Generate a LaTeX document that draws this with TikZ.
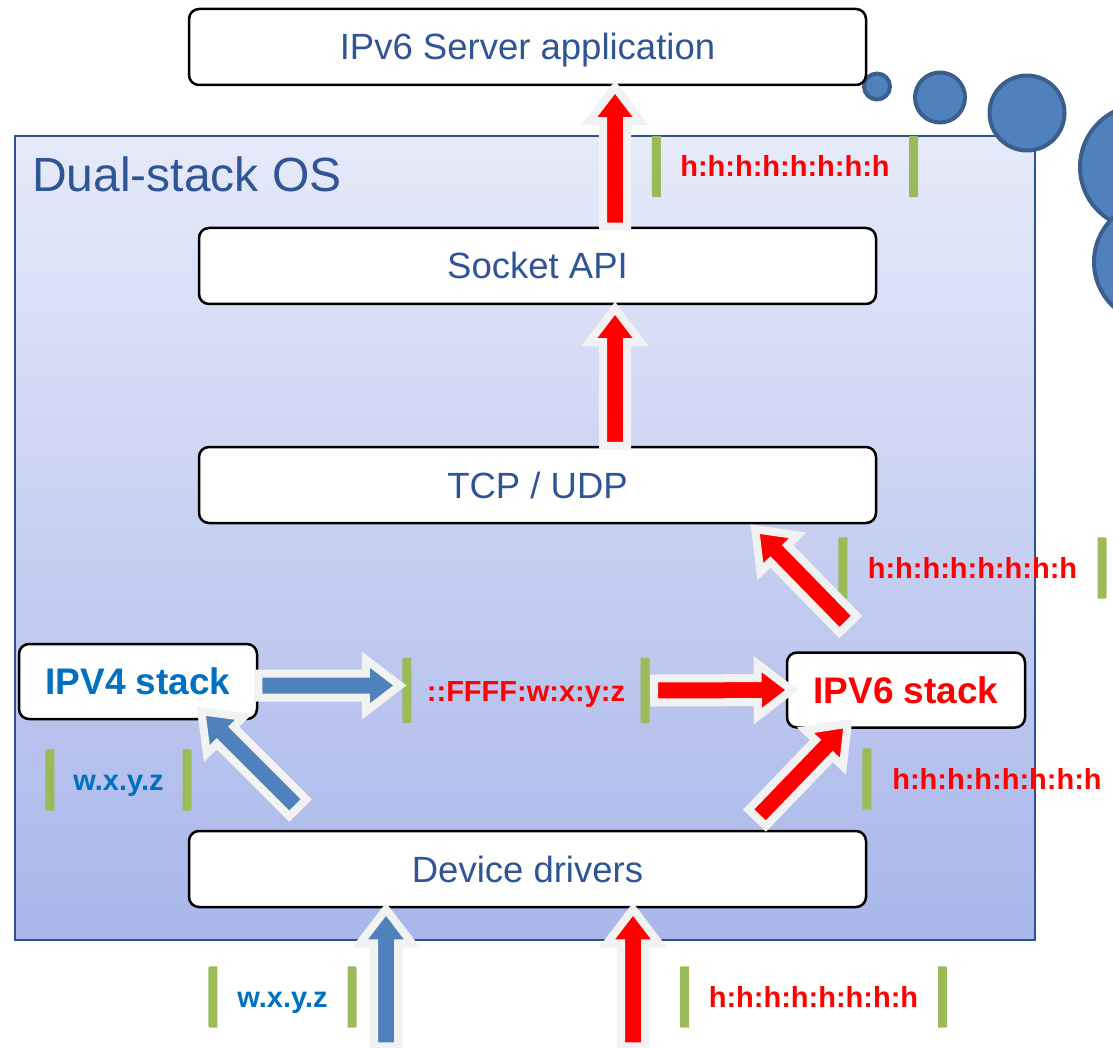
\documentclass[tikz,border=0pt]{standalone}
\usepackage{fontspec}
\setmainfont{Liberation Sans}
\usetikzlibrary{calc,positioning}

\definecolor{txtblue}{RGB}{47,85,151}
\definecolor{vfourblue}{RGB}{0,112,192}
\definecolor{arrblue}{RGB}{79,129,189}
\definecolor{rim}{RGB}{242,242,242}
\definecolor{brkgreen}{RGB}{155,187,89}
\definecolor{osedge}{RGB}{47,82,143}
\definecolor{ostop}{RGB}{230,234,249}
\definecolor{osbottom}{RGB}{168,182,234}
\definecolor{bubble}{RGB}{79,129,189}
\definecolor{bubbleedge}{RGB}{58,95,140}

\tikzset{
  layer/.style={draw=black, line width=2.5pt, rounded corners=10pt, fill=white,
    minimum width=677pt, minimum height=76pt, text=txtblue,
    text height=26pt, text depth=0pt, font=\fontsize{36.5}{44}\selectfont},
  stackbox/.style={layer, minimum width=238pt, minimum height=75pt,
    font=\bfseries\fontsize{37}{44}\selectfont},
  addr/.style={minimum width=#1, minimum height=61pt, inner sep=0pt,
    text height=21pt, text depth=0pt, font=\bfseries\fontsize{29}{35}\selectfont},
  bub/.style={fill=bubble, draw=bubbleedge, line width=4pt},
  blockarrow/.style={fill=#1, draw=rim, line width=8pt, line join=miter,
    to path={let \p1=($(\tikztotarget)!34pt!(\tikztostart)$) in
      ($(\tikztostart)!12pt!90:(\tikztotarget)$) -- ($(\p1)!12pt!90:(\tikztotarget)$)
      -- ($(\p1)!26pt!90:(\tikztotarget)$) -- (\tikztotarget)
      -- ($(\p1)!26pt!-90:(\tikztotarget)$) -- ($(\p1)!12pt!-90:(\tikztotarget)$)
      -- ($(\tikztostart)!12pt!-90:(\tikztotarget)$) -- cycle}}
}

\begin{document}
\begin{tikzpicture}[x=1pt,y=-1pt]
  \useasboundingbox (0,0) rectangle (1113,1048);

  % the operating system
  \node[draw=osedge, line width=2.5pt, top color=ostop, bottom color=osbottom,
    minimum width=1020pt, minimum height=804pt, inner sep=0pt] (os) at (525,538) {};
  \node[anchor=base west, inner sep=0pt, text=txtblue, font=\fontsize{48}{56}\selectfont]
    (title) at (32,192) {Dual-stack OS};

  % thought bubbles
  \draw[bub] (877,86.5) circle[radius=13pt];
  \draw[bub] (940,97.5) circle[radius=25pt];
  \draw[bub] (1027,113) circle[radius=37.5pt];
  \draw[bub] (1142,167) circle[radius=62pt];
  \draw[bub] (1155,262) circle[radius=61pt];

  % layers
  \node[layer] (srv) at (527.5,47) {IPv6 Server application};
  \node[layer] (sock) at (537.5,266) {Socket API};
  \node[layer] (tcp) at (537.5,485) {TCP / UDP};
  \node[stackbox, text=vfourblue] (vfour) at (138,681.5) {IPV4 stack};
  \node[stackbox, text=red] (vsix) at (906,690) {IPV6 stack};
  \node[layer] (drv) at (527.5,869) {Device drivers};

  % addresses
  \node[addr=257pt, text=red] (a1) at (785,166.5) {h:h:h:h:h:h:h:h};
  \node[addr=259pt, text=red] (a2) at (972.5,568) {h:h:h:h:h:h:h:h};
  \node[addr=238pt, text=red, minimum height=65pt] (a3) at (526,690.5) {::FFFF:w:x:y:z};
  \node[addr=260pt, text=red] (a4) at (997,779) {h:h:h:h:h:h:h:h};
  \node[addr=137pt, text=vfourblue] (a5) at (118.5,780) {w.x.y.z};
  \node[addr=139pt, text=vfourblue] (a6) at (282.5,997) {w.x.y.z};
  \node[addr=258pt, text=red] (a7) at (813.5,997) {h:h:h:h:h:h:h:h};

  \foreach \lbl in {a1,a2,a3,a4,a5,a6,a7} {
    \fill[brkgreen] let \p1=(\lbl.north west), \p2=(\lbl.south west) in
      (\x1+4.5pt,\y1) -- (\x1-1pt,\y1) .. controls (\x1-4.5pt,\y1) .. (\x1-4.5pt,\y1-5pt)
      -- (\x1-4.5pt,\y2+5pt) .. controls (\x1-4.5pt,\y2) .. (\x1-1pt,\y2)
      -- (\x1+4.5pt,\y2) -- cycle;
    \fill[brkgreen] let \p1=(\lbl.north east), \p2=(\lbl.south east) in
      (\x1-4.5pt,\y1) -- (\x1+1pt,\y1) .. controls (\x1+4.5pt,\y1) .. (\x1+4.5pt,\y1-5pt)
      -- (\x1+4.5pt,\y2+5pt) .. controls (\x1+4.5pt,\y2) .. (\x1+1pt,\y2)
      -- (\x1-4.5pt,\y2) -- cycle;
  }

  % packets going up
  \draw[blockarrow=red] ($(sock.north)+(77.5,0)$) to ($(srv.south)+(87.5,1)$);
  \draw[blockarrow=red] ($(tcp.north)+(77.5,0)$) to ($(sock.south)+(77.5,3)$);
  \draw[blockarrow=red] ($(vsix.north)+(-58,-27)$) to ($(tcp.south east)+(-122,5)$);
  \draw[blockarrow=red] ($(drv.north east)+(-110,-12)$) to ($(vsix.south west)+(62,-5)$);
  \draw[blockarrow=arrblue] ($(drv.north west)+(110,-22)$) to ($(vfour.south east)+(-57,-9)$);
  \draw[blockarrow=arrblue] ($(vfour.east)+(0,4)$) to ($(a3.west)+(-7,-5)$);
  \draw[blockarrow=red] ($(a3.east)+(9,0)$) to ($(vsix.west)+(6,0)$);
  \draw[blockarrow=arrblue] ($(drv.south)+(-141.5,138)$) to ($(drv.south)+(-141.5,1)$);
  \draw[blockarrow=red] ($(drv.south)+(105.5,138)$) to ($(drv.south)+(105.5,1)$);
\end{tikzpicture}
\end{document}
